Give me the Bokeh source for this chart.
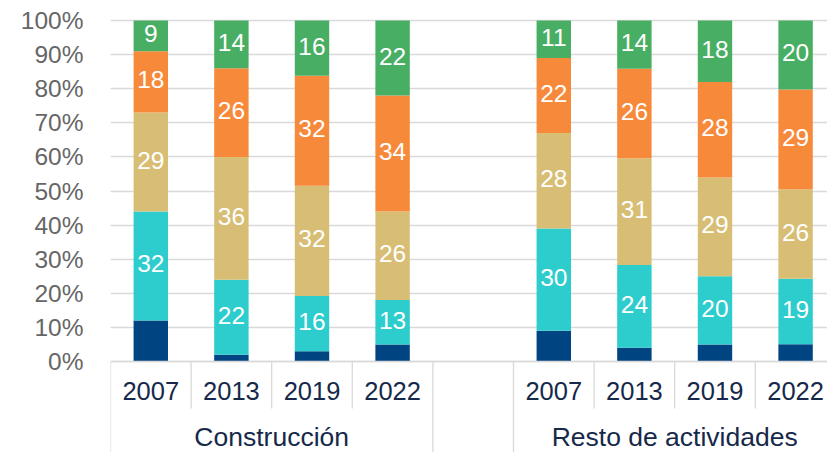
from bokeh.plotting import figure
from bokeh.models import Range1d, FixedTicker, PrintfTickFormatter
from bokeh.core.properties import value
from bokeh.embed import file_html
from bokeh.resources import INLINE

# ---- data ----
groups = ["Construcción", "Resto de actividades"]
years = ["2007", "2013", "2019", "2022"]
y_ticks = [0, 10, 20, 30, 40, 50, 60, 70, 80, 90, 100]

# series (bottom to top), values per group: [2007, 2013, 2019, 2022]
s_navy = {"Construcción": [12, 2, 3, 5], "Resto de actividades": [9, 4, 5, 5]}
s_aqua = {"Construcción": [32, 22, 16, 13], "Resto de actividades": [30, 24, 20, 19]}
s_sand = {"Construcción": [29, 36, 32, 26], "Resto de actividades": [28, 31, 29, 26]}
s_orange = {"Construcción": [18, 26, 32, 34], "Resto de actividades": [22, 26, 28, 29]}
s_green = {"Construcción": [9, 14, 16, 22], "Resto de actividades": [11, 14, 18, 20]}

series = [
    (s_navy, "#004481", False),
    (s_aqua, "#2DCCCD", True),
    (s_sand, "#D8BE75", True),
    (s_orange, "#F7893B", True),
    (s_green, "#48AE64", True),
]

FONT = "Liberation Sans"
GRID = "#D9D9D9"
SLOTS_PER_GROUP = len(years) + 1  # one empty slot between groups

p = figure(
    width=827, height=452, output_backend="svg", toolbar_location=None,
    x_range=Range1d(0, 8.896), y_range=Range1d(-26.7, 100.9),
    x_axis_location=None, min_border_left=110, min_border_right=0,
    min_border_top=17, min_border_bottom=0,
)
p.outline_line_color = None
p.background_fill_color = "white"
p.border_fill_color = "white"

# y axis
yax = p.yaxis[0]
yax.ticker = FixedTicker(ticks=y_ticks)
yax.formatter = PrintfTickFormatter(format="%d%%")
yax.axis_line_color = None
yax.major_tick_line_color = None
yax.minor_tick_line_color = None
yax.major_label_text_font = FONT
yax.major_label_text_font_size = "24.5px"
yax.major_label_text_color = "#666666"
yax.major_label_standoff = 21

p.xgrid.visible = False
p.ygrid.ticker = FixedTicker(ticks=y_ticks)
p.ygrid.grid_line_color = GRID
p.ygrid.grid_line_width = 1.3

# build stacked bars (100% normalised)
xs, totals = [], []
for gi, g in enumerate(groups):
    for i in range(len(years)):
        xs.append(gi * SLOTS_PER_GROUP + i + 0.5)
        totals.append(sum(s[0][g][i] for s in series))

bottoms = [0.0] * len(xs)
lab_x, lab_y, lab_t = [], [], []
for s, color, labelled in series:
    vals = [s[g][i] for g in groups for i in range(len(years))]
    tops = [b + v / t * 100 for b, v, t in zip(bottoms, vals, totals)]
    p.vbar(x=xs, width=0.427, bottom=bottoms, top=tops, fill_color=color, line_color=None)
    if labelled:
        for x, b, tp, v in zip(xs, bottoms, tops, vals):
            lab_x.append(x)
            lab_y.append((b + tp) / 2 + 0.6)
            lab_t.append(str(v))
    bottoms = tops

p.text(x=lab_x, y=lab_y, text=lab_t, text_align="center", text_baseline="middle",
       text_color="white", text_font=value(FONT), text_font_size="24.5px")

# category axis drawn inside the extended frame
short_end = -13.8
long_end = -26.7
n_slots = SLOTS_PER_GROUP * len(groups)
seg_x, seg_y1 = [], []
for k in range(n_slots):
    seg_x.append(k)
    if k % SLOTS_PER_GROUP == 0 or k % SLOTS_PER_GROUP == len(years):
        seg_y1.append(long_end)
    else:
        seg_y1.append(short_end)
p.segment(x0=seg_x, y0=[0] * len(seg_x), x1=seg_x, y1=seg_y1, line_color=GRID, line_width=1.3)
p.segment(x0=[0], y0=[0], x1=[9], y1=[0], line_color=GRID, line_width=1.3)

yl_x, yl_t = [], []
for gi, g in enumerate(groups):
    for i, yr in enumerate(years):
        yl_x.append(gi * SLOTS_PER_GROUP + i + 0.5)
        yl_t.append(yr)
p.text(x=yl_x, y=[-8.8] * len(yl_x), text=yl_t, text_align="center", text_baseline="middle",
       text_color="#16294A", text_font=value(FONT), text_font_size="25.5px")

gl_x = [gi * SLOTS_PER_GROUP + len(years) / 2 for gi in range(len(groups))]
p.text(x=gl_x, y=[-22.1] * len(gl_x), text=groups, text_align="center", text_baseline="middle",
       text_color="#16294A", text_font=value(FONT), text_font_size="26.5px")

open("out.html", "w").write(file_html(p, INLINE))
